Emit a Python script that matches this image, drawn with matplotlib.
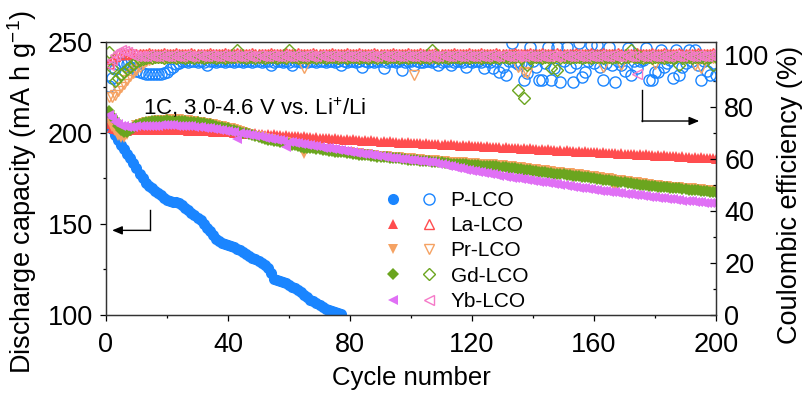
import numpy as np
import matplotlib
matplotlib.use("Agg")
import matplotlib.pyplot as plt
from matplotlib.legend_handler import HandlerTuple

plt.rcParams['font.family'] = ['Liberation Sans', 'DejaVu Sans']
plt.rcParams['mathtext.fontset'] = 'custom'
plt.rcParams['mathtext.rm'] = 'Liberation Sans'
plt.rcParams['mathtext.default'] = 'regular'

# cycle numbers
cycles = np.arange(1, 201)
cycles_p = np.arange(1, 78)

# discharge capacity (mA h g-1)
cap_p = [205.0, 202.0, 199.0, 196.0, 193.5, 191.0, 188.5, 186.0, 183.5, 180.5,
         177.5, 175.0, 172.5, 171.0, 169.5, 168.3, 167.0, 165.7, 164.5, 163.3,
         162.5, 162.2, 162.0, 161.5, 160.5, 159.0, 157.5, 156.3, 155.0, 153.5,
         152.0, 150.0, 148.0, 146.0, 144.0, 142.0, 140.5, 139.5, 139.0, 138.5,
         138.0, 137.3, 136.5, 135.5, 134.5, 133.5, 132.5, 131.5, 130.5, 129.5,
         128.5, 127.3, 126.0, 123.0, 120.0, 119.0, 118.5, 118.0, 117.5, 116.5,
         115.5, 114.8, 114.0, 112.5, 111.0, 109.7, 108.5, 107.5, 106.5, 105.5,
         104.5, 103.5, 102.5, 102.0, 101.5, 101.0, 100.5]

cap_la = [205.0, 203.0, 202.0, 201.5, 201.0, 201.4, 201.2, 201.7, 201.5, 202.0, 201.8, 202.2, 201.9, 202.3, 201.9, 202.3, 201.8, 202.2, 201.8, 202.1,
          201.6, 202.0, 201.5, 201.9, 201.4, 201.8, 201.3, 201.7, 201.2, 201.5, 201.0, 201.4, 200.9, 201.2, 200.7, 201.1, 200.6, 200.9, 200.4, 200.8,
          200.6, 200.2, 200.4, 199.9, 200.1, 199.7, 200.0, 199.5, 199.8, 199.4, 199.6, 199.1, 199.4, 198.9, 199.2, 198.7, 199.0, 198.5, 198.8, 198.3,
          198.6, 198.1, 198.3, 197.9, 198.1, 197.7, 197.9, 197.5, 197.7, 197.2, 197.5, 197.0, 197.3, 196.8, 197.1, 196.6, 196.9, 196.4, 196.7, 196.2,
          196.5, 196.0, 196.3, 195.8, 196.1, 195.6, 195.9, 195.4, 195.7, 195.3, 195.6, 195.1, 195.4, 194.9, 195.2, 194.7, 195.0, 194.6, 194.9, 194.4,
          194.7, 194.3, 194.5, 194.1, 194.4, 193.9, 194.2, 193.8, 194.0, 193.6, 193.9, 193.4, 193.7, 193.3, 193.5, 193.1, 193.4, 192.9, 193.2, 192.8,
          193.0, 192.6, 192.9, 192.4, 192.7, 192.2, 192.5, 192.1, 192.4, 191.9, 192.2, 191.7, 192.0, 191.6, 191.8, 191.4, 191.7, 191.2, 191.5, 191.0,
          191.3, 190.9, 191.1, 190.7, 191.0, 190.5, 190.8, 190.3, 190.6, 190.2, 190.5, 190.0, 190.3, 189.8, 190.1, 189.7, 189.9, 189.5, 189.8, 189.3,
          189.6, 189.1, 189.4, 189.0, 189.2, 188.8, 189.1, 188.6, 188.9, 188.4, 188.7, 188.3, 188.5, 188.1, 188.4, 187.9, 188.2, 187.7, 188.0, 187.6,
          187.9, 187.4, 187.7, 187.2, 187.5, 187.1, 187.3, 186.9, 187.2, 186.7, 187.0, 186.5, 186.8, 186.4, 186.6, 186.2, 186.5, 186.0, 186.3, 185.9]

cap_pr = [207.0, 203.5, 201.0, 198.5, 197.0, 197.5, 199.0, 201.0, 203.0, 204.2, 205.0, 205.6, 206.0, 206.3, 206.5, 206.8, 207.0, 207.2, 207.3, 207.4,
          207.5, 207.5, 207.5, 207.5, 207.4, 207.2, 207.0, 206.8, 206.5, 206.3, 206.0, 205.7, 205.4, 205.0, 204.7, 204.3, 204.0, 203.6, 203.2, 202.9,
          202.5, 202.0, 201.6, 201.1, 200.6, 200.1, 199.6, 199.1, 198.6, 198.1, 197.6, 197.3, 196.9, 196.6, 196.2, 195.8, 195.4, 195.1, 194.8, 194.4,
          194.0, 193.7, 193.3, 192.9, 188.5, 192.6, 192.3, 192.0, 191.8, 191.5, 191.3, 191.1, 190.9, 190.7, 190.5, 190.3, 190.1, 189.8, 189.6, 189.4,
          189.2, 189.0, 188.8, 188.6, 188.4, 188.2, 188.0, 187.8, 187.6, 187.5, 187.3, 187.2, 187.0, 186.9, 186.7, 186.6, 186.4, 186.3, 186.1, 186.0,
          185.8, 185.7, 185.6, 185.4, 185.3, 185.1, 185.0, 184.9, 184.8, 184.6, 184.5, 184.3, 184.2, 184.1, 184.0, 183.9, 183.8, 183.7, 183.6, 183.5,
          183.4, 183.2, 183.1, 183.0, 182.9, 182.8, 182.7, 182.5, 182.4, 182.2, 182.1, 181.9, 181.7, 181.5, 181.3, 181.1, 180.9, 180.7, 180.4, 180.2,
          180.0, 179.8, 179.6, 179.4, 179.2, 179.0, 178.8, 178.6, 178.4, 178.2, 178.0, 177.8, 177.6, 177.4, 177.2, 177.0, 176.8, 176.6, 176.4, 176.2,
          176.0, 175.8, 175.5, 175.3, 175.0, 174.8, 169.0, 174.3, 174.0, 173.8, 173.5, 173.3, 173.0, 172.8, 172.5, 172.3, 172.0, 171.8, 171.6, 171.4,
          171.2, 171.0, 170.8, 170.7, 170.5, 170.4, 170.2, 170.1, 169.9, 169.8, 169.6, 169.5, 169.3, 169.2, 169.0, 168.9, 168.7, 168.6, 168.4, 168.3]

cap_gd = [212.0, 209.5, 207.0, 204.0, 201.5, 200.8, 200.5, 201.5, 203.0, 204.2, 205.0, 205.6, 206.0, 206.3, 206.5, 206.7, 206.5, 206.8, 206.6, 206.9,
          206.6, 206.8, 206.5, 206.7, 206.4, 206.4, 206.1, 206.1, 205.8, 205.8, 205.4, 205.3, 204.9, 204.7, 204.2, 204.0, 203.5, 203.2, 202.7, 202.5,
          201.9, 201.7, 201.1, 200.8, 200.1, 199.8, 199.2, 198.8, 198.1, 197.8, 197.1, 196.9, 196.4, 196.2, 195.7, 195.5, 194.9, 194.8, 194.3, 194.1,
          193.5, 193.3, 192.7, 192.5, 191.9, 192.0, 191.6, 191.5, 191.1, 191.0, 190.6, 190.6, 190.2, 190.2, 189.8, 189.8, 189.4, 189.3, 188.9, 188.9,
          188.5, 188.5, 188.1, 188.1, 187.7, 187.7, 187.3, 187.3, 186.9, 186.9, 186.6, 186.6, 186.3, 186.3, 186.0, 186.0, 185.7, 185.7, 185.4, 185.4,
          185.1, 185.1, 184.8, 184.8, 184.5, 184.5, 184.2, 184.2, 183.9, 183.8, 183.5, 183.5, 183.2, 183.2, 183.0, 183.0, 182.8, 182.8, 182.6, 182.6,
          182.4, 182.4, 182.1, 182.1, 181.9, 181.9, 181.7, 181.7, 181.4, 181.4, 181.1, 181.0, 180.7, 180.6, 180.3, 180.2, 179.9, 179.8, 179.4, 179.3,
          178.9, 178.8, 178.5, 178.4, 178.1, 178.0, 177.7, 177.6, 177.3, 177.2, 176.9, 176.8, 176.5, 176.4, 176.1, 176.0, 175.7, 175.6, 175.3, 175.2,
          174.9, 174.7, 174.4, 174.2, 173.9, 173.7, 173.4, 173.2, 172.9, 172.8, 172.5, 172.3, 172.0, 171.9, 171.6, 171.5, 171.2, 171.1, 170.8, 170.7,
          170.4, 170.4, 170.1, 170.1, 169.8, 169.8, 169.5, 169.5, 169.2, 169.1, 168.9, 168.8, 168.5, 168.5, 168.2, 168.2, 167.9, 167.8, 167.5, 167.4]

cap_yb = [210.0, 208.0, 206.0, 205.0, 204.0, 203.7, 203.5, 203.5, 203.5, 203.6, 203.7, 203.8, 203.9, 204.0, 204.0, 204.1, 204.1, 204.2, 204.2, 204.2,
          204.2, 204.2, 204.1, 204.1, 204.0, 203.9, 203.8, 203.7, 203.5, 203.4, 203.2, 203.0, 202.8, 202.6, 202.4, 202.1, 201.8, 201.5, 201.2, 200.9,
          200.6, 200.3, 196.5, 199.9, 199.6, 199.3, 199.0, 198.7, 198.4, 198.1, 197.8, 197.5, 197.1, 196.8, 196.5, 196.2, 195.9, 195.6, 192.5, 195.3,
          195.0, 194.7, 194.4, 194.1, 193.8, 193.5, 193.2, 192.9, 192.6, 192.3, 192.0, 191.8, 191.5, 191.3, 191.0, 190.8, 190.5, 190.3, 190.0, 189.7,
          189.4, 189.2, 188.9, 188.7, 188.4, 188.2, 187.9, 187.7, 187.4, 187.2, 186.9, 186.7, 186.5, 186.3, 186.1, 185.9, 185.7, 185.6, 185.4, 185.2,
          185.0, 184.8, 184.6, 184.4, 184.2, 184.0, 183.8, 183.4, 183.0, 182.7, 182.3, 182.0, 181.6, 181.3, 180.9, 180.6, 180.2, 179.9, 179.6, 179.3,
          179.0, 178.7, 178.4, 178.1, 177.8, 177.5, 177.2, 176.9, 176.6, 176.3, 176.0, 175.8, 175.5, 175.3, 175.0, 174.8, 174.5, 174.3, 174.0, 173.8,
          173.5, 173.3, 173.0, 172.8, 172.5, 172.3, 172.0, 171.8, 171.5, 171.3, 171.0, 170.8, 170.5, 170.3, 170.0, 169.8, 169.5, 169.3, 169.0, 168.8,
          168.5, 168.3, 168.1, 167.9, 167.7, 167.5, 167.3, 167.1, 166.9, 166.7, 166.5, 166.3, 166.1, 165.9, 165.7, 165.5, 165.3, 165.1, 164.9, 164.7,
          164.5, 164.3, 164.1, 163.9, 163.7, 163.5, 163.3, 163.1, 162.9, 162.7, 162.5, 162.4, 162.2, 162.1, 161.9, 161.8, 161.6, 161.5, 161.3, 161.2]

# coulombic efficiency (%)
ce_p = [88.0, 91.0, 94.5, 96.5, 97.0, 97.0, 96.5, 95.5, 95.0, 94.0, 93.5, 93.0, 92.8, 92.5, 92.5, 92.5, 92.6, 92.8, 93.0, 93.5,
        94.5, 95.5, 96.5, 97.0, 97.5, 97.5, 97.4, 97.6, 97.5, 97.4, 97.5, 97.3, 96.0, 97.5, 97.6, 97.4, 97.5, 97.5, 97.3, 97.6,
        97.5, 97.4, 97.6, 97.5, 97.3, 97.5, 97.6, 97.4, 97.5, 97.5, 97.3, 97.6, 97.5, 96.0, 97.4, 97.5, 97.6, 97.3, 97.5, 97.4,
        96.0, 97.5, 97.6, 97.4, 97.5, 97.3, 97.5, 97.6, 97.4, 97.5, 97.5, 97.3, 97.6, 97.5, 97.4, 97.5, 96.2, 97.5, 97.3, 97.6,
        97.5, 97.4, 97.5, 95.4, 97.6, 97.3, 97.5, 97.4, 97.6, 97.5, 95.0, 97.4, 97.5, 97.6, 97.3, 97.5, 94.2, 97.4, 97.5, 97.6,
        96.2, 97.5, 97.3, 97.4, 97.6, 97.5, 97.4, 97.5, 96.2, 97.3, 97.6, 97.5, 96.2, 97.4, 97.5, 97.6, 97.3, 95.4, 97.5, 97.4,
        97.6, 97.5, 97.3, 95.0, 97.5, 97.4, 95.0, 97.6, 93.5, 95.4, 92.3, 97.5, 104.6, 97.4, 96.5, 97.0, 90.4, 93.0, 103.0, 97.5,
        95.5, 90.4, 90.4, 97.0, 103.0, 90.4, 95.0, 103.0, 89.6, 97.5, 103.0, 95.5, 89.6, 97.0, 104.6, 91.5, 93.5, 97.5, 103.8, 97.0,
        103.8, 95.4, 90.4, 97.0, 103.0, 96.2, 89.6, 97.5, 96.2, 94.0, 102.7, 92.3, 97.5, 95.0, 97.5, 98.0, 102.7, 90.4, 90.4, 93.5,
        93.5, 102.0, 95.4, 97.0, 98.0, 91.0, 102.0, 92.3, 95.5, 97.0, 102.0, 97.5, 102.0, 96.0, 90.4, 97.5, 94.0, 92.3, 97.0, 92.3]

ce_la = [97.0, 98.5, 99.5, 100.2, 100.5, 100.2, 100.4, 100.6, 100.3, 100.5, 100.2, 100.4, 100.3, 100.6, 100.4, 100.2, 100.5, 100.3, 100.6, 100.4,
         100.4, 100.2, 100.6, 100.3, 100.5, 100.2, 100.4, 100.6, 100.3, 100.5, 100.2, 100.4, 100.3, 100.6, 100.4, 100.2, 100.5, 100.3, 100.6, 100.4,
         100.4, 100.2, 100.6, 100.3, 100.5, 100.2, 100.4, 100.6, 100.3, 100.5, 100.2, 100.4, 100.3, 100.6, 100.4, 100.2, 100.5, 100.3, 100.6, 100.4,
         100.4, 100.2, 100.6, 100.3, 100.5, 100.2, 100.4, 100.6, 100.3, 100.5, 100.2, 100.4, 100.3, 100.6, 100.4, 100.2, 100.5, 100.3, 100.6, 100.4,
         100.4, 100.2, 100.6, 100.3, 100.5, 100.2, 100.4, 100.6, 100.3, 100.5, 100.2, 100.4, 100.3, 100.6, 100.4, 100.2, 100.5, 100.3, 100.6, 100.4,
         100.4, 100.2, 100.6, 100.3, 100.5, 100.2, 100.4, 100.6, 100.3, 100.5, 100.2, 100.4, 100.3, 100.6, 100.4, 100.2, 100.5, 100.3, 100.6, 100.4,
         100.4, 100.2, 100.6, 100.3, 100.5, 100.2, 100.4, 100.6, 100.3, 100.5, 100.2, 100.4, 100.3, 100.6, 100.4, 100.2, 100.5, 100.3, 100.6, 100.4,
         100.4, 100.2, 100.6, 100.3, 100.5, 100.2, 100.4, 100.6, 100.3, 100.5, 100.2, 100.4, 100.3, 100.6, 100.4, 100.2, 100.5, 100.3, 100.6, 100.4,
         100.4, 100.2, 100.6, 100.3, 100.5, 100.2, 100.4, 100.6, 100.3, 100.5, 100.2, 100.4, 100.3, 100.6, 100.4, 100.2, 100.5, 100.3, 100.6, 100.4,
         100.4, 100.2, 100.6, 100.3, 100.5, 100.2, 100.4, 100.6, 100.3, 100.5, 100.2, 100.4, 100.3, 100.6, 100.4, 100.2, 100.5, 100.3, 100.6, 100.4]

ce_pr = [84.0, 84.0, 84.5, 86.0, 87.5, 89.0, 90.5, 92.0, 93.0, 94.3, 95.5, 96.5, 97.5, 98.0, 98.5, 98.8, 99.0, 99.1, 99.0, 99.2,
         99.0, 99.2, 98.8, 99.1, 99.0, 99.3, 98.9, 99.1, 99.2, 98.8, 99.0, 99.2, 98.9, 99.1, 99.0, 99.3, 98.8, 99.1, 99.0, 99.2,
         99.0, 99.2, 98.8, 99.1, 99.0, 99.3, 98.9, 99.1, 99.2, 98.8, 99.0, 99.2, 98.9, 99.1, 99.0, 99.3, 98.8, 99.1, 99.0, 99.2,
         99.0, 99.2, 98.8, 99.1, 95.0, 99.3, 98.9, 99.1, 99.2, 98.8, 99.0, 99.2, 98.9, 99.1, 99.0, 99.3, 98.8, 99.1, 99.0, 99.2,
         99.0, 99.2, 98.8, 99.1, 99.0, 99.3, 98.9, 99.1, 99.2, 98.8, 99.0, 99.2, 98.9, 99.1, 99.0, 99.3, 98.8, 99.1, 99.0, 99.2,
         92.3, 99.2, 98.8, 99.1, 99.0, 99.3, 98.9, 99.1, 99.2, 98.8, 99.0, 99.2, 98.9, 99.1, 99.0, 99.3, 98.8, 99.1, 99.0, 99.2,
         99.0, 99.2, 98.8, 99.1, 99.0, 99.3, 98.9, 99.1, 99.2, 98.8, 99.0, 99.2, 98.9, 99.1, 95.4, 99.3, 93.5, 93.0, 99.0, 99.2,
         99.0, 99.2, 98.8, 99.1, 99.0, 99.3, 98.9, 99.1, 99.2, 98.8, 99.0, 99.2, 98.9, 99.1, 99.0, 99.3, 98.8, 99.1, 99.0, 99.2,
         99.0, 99.2, 95.4, 99.1, 99.0, 99.3, 98.9, 99.1, 96.0, 98.8, 99.0, 99.2, 98.9, 99.1, 99.0, 99.3, 98.8, 99.1, 99.0, 96.5,
         99.0, 99.2, 98.8, 99.1, 99.0, 99.3, 98.9, 99.1, 99.2, 98.8, 99.0, 99.2, 96.0, 99.1, 95.0, 99.3, 98.8, 99.1, 99.0, 99.2]

ce_gd = [101.0, 95.0, 90.0, 91.0, 92.5, 93.5, 94.5, 95.5, 96.5, 97.3, 98.0, 98.5, 99.0, 99.2, 99.0, 99.3, 99.1, 99.2, 99.0, 99.3,
         99.1, 99.3, 99.0, 99.2, 99.1, 99.0, 99.3, 99.2, 99.0, 99.1, 99.3, 99.0, 99.2, 99.1, 99.3, 99.0, 99.2, 99.1, 99.0, 99.3,
         99.1, 99.3, 102.0, 99.2, 99.1, 99.0, 99.3, 99.2, 99.0, 99.1, 99.3, 99.0, 99.2, 99.1, 99.3, 99.0, 99.2, 99.1, 99.0, 102.0,
         99.1, 99.3, 99.0, 99.2, 99.1, 99.0, 99.3, 99.2, 99.0, 99.1, 99.3, 99.0, 99.2, 99.1, 99.3, 99.0, 99.2, 99.1, 99.0, 99.3,
         99.1, 99.3, 99.0, 99.2, 99.1, 99.0, 99.3, 99.2, 99.0, 99.1, 99.3, 99.0, 99.2, 99.1, 99.3, 99.0, 99.2, 99.1, 99.0, 99.3,
         99.1, 99.3, 99.0, 99.2, 99.1, 99.0, 102.0, 99.2, 99.0, 99.1, 99.3, 99.0, 99.2, 99.1, 99.3, 99.0, 99.2, 99.1, 99.0, 99.3,
         99.1, 99.3, 99.0, 99.2, 99.1, 99.0, 99.3, 99.2, 99.0, 99.1, 99.3, 99.0, 99.2, 99.1, 86.5, 99.0, 83.5, 96.0, 99.0, 99.3,
         99.1, 99.3, 99.0, 99.2, 99.1, 95.0, 99.3, 94.2, 99.0, 99.1, 99.3, 99.0, 99.2, 99.1, 99.3, 99.0, 99.2, 99.1, 99.0, 99.3,
         99.1, 99.3, 99.0, 99.2, 99.1, 99.0, 99.3, 99.2, 99.0, 99.1, 99.3, 102.0, 99.2, 99.1, 99.3, 99.0, 99.2, 99.1, 99.0, 99.3,
         99.1, 99.3, 99.0, 99.2, 99.1, 99.0, 99.3, 96.0, 99.0, 99.1, 99.3, 99.0, 99.2, 99.1, 99.3, 99.0, 99.2, 99.1, 96.0, 99.3]

ce_yb = [96.0, 98.0, 100.0, 101.0, 102.0, 101.5, 101.0, 100.3, 99.8, 99.6, 99.5, 99.7, 99.6, 99.8, 99.5, 99.7, 99.6, 99.8, 99.5, 99.7,
         99.6, 99.8, 99.5, 99.7, 99.6, 99.8, 99.5, 99.7, 99.6, 99.8, 99.5, 99.7, 99.6, 99.8, 99.5, 99.7, 99.6, 99.8, 99.5, 99.7,
         99.6, 99.8, 99.5, 99.7, 99.6, 99.8, 99.5, 99.7, 99.6, 99.8, 99.5, 99.7, 99.6, 99.8, 99.5, 99.7, 99.6, 99.8, 99.5, 99.7,
         99.6, 99.8, 99.5, 99.7, 99.6, 99.8, 99.5, 99.7, 99.6, 99.8, 99.5, 99.7, 99.6, 99.8, 99.5, 99.7, 99.6, 99.8, 99.5, 99.7,
         99.6, 99.8, 99.5, 99.7, 99.6, 99.8, 99.5, 99.7, 99.6, 99.8, 99.5, 99.7, 99.6, 99.8, 99.5, 99.7, 99.6, 99.8, 99.5, 99.7,
         99.6, 99.8, 99.5, 99.7, 99.6, 99.8, 99.5, 99.7, 99.6, 99.8, 99.5, 99.7, 99.6, 99.8, 99.5, 99.7, 99.6, 99.8, 99.5, 99.7,
         99.6, 99.8, 99.5, 99.7, 99.6, 99.8, 99.5, 99.7, 99.6, 99.8, 99.5, 99.7, 99.6, 99.8, 99.5, 99.7, 99.6, 99.8, 99.5, 99.7,
         99.6, 99.8, 99.5, 99.7, 99.6, 99.8, 99.5, 99.7, 99.6, 99.8, 99.5, 99.7, 99.6, 99.8, 99.5, 99.7, 99.6, 99.8, 99.5, 99.7,
         99.6, 99.8, 99.5, 99.7, 99.6, 99.8, 99.5, 99.7, 99.6, 99.8, 99.5, 99.7, 99.6, 92.5, 99.5, 99.7, 99.6, 99.8, 99.5, 99.7,
         99.6, 99.8, 99.5, 99.7, 99.6, 99.8, 99.5, 99.7, 99.6, 99.8, 99.5, 99.7, 99.6, 99.8, 99.5, 99.7, 99.6, 99.8, 99.5, 99.7]

labels = ['P-LCO', 'La-LCO', 'Pr-LCO', 'Gd-LCO', 'Yb-LCO']
markers = ['o', '^', 'v', 'D', '<']
cap_colors = ['#1a85ff', '#ff4d4f', '#f5a263', '#6ba51f', '#e070f5']
ce_colors = ['#1a85ff', '#ff4d4f', '#f5a263', '#6ba51f', '#f57ac8']

fig = plt.figure(figsize=(8.03, 3.94), dpi=100)
ax = fig.add_axes([0.132, 0.2005, 0.7597, 0.693])
ax2 = ax.twinx()

cap_x = [cycles_p, cycles, cycles, cycles, cycles]
cap_y = [cap_p, cap_la, cap_pr, cap_gd, cap_yb]
ce_y = [ce_p, ce_la, ce_pr, ce_gd, ce_yb]
sizes = [8, 7.5, 7.5, 6.3, 7.5]

handles = []
for i in range(5):
    h1, = ax.plot(cap_x[i], cap_y[i], ls='none', marker=markers[i], ms=sizes[i],
                  color=cap_colors[i], mec=cap_colors[i], mew=0)
    h2, = ax2.plot(cycles, ce_y[i], ls='none', marker=markers[i], ms=sizes[i],
                   mfc='none', mec=ce_colors[i], mew=1.0)
    handles.append((h1, h2))

ax.set_xlim(0, 200)
ax.set_ylim(100, 250)
ax2.set_ylim(0, 105)

ax.set_xticks(np.arange(0, 201, 40))
ax.set_xticks(np.arange(0, 201, 20), minor=True)
ax.set_yticks([100, 150, 200, 250])
ax.set_yticks([125, 175, 225], minor=True)
ax2.set_yticks(np.arange(0, 101, 20))
ax2.set_yticks(np.arange(10, 100, 20), minor=True)

ax.tick_params(axis='both', which='major', direction='out', length=4.5, width=0.9,
               labelsize=19.5)
ax.tick_params(axis='y', which='major', pad=5)
ax.tick_params(axis='x', which='major', pad=7.5)
ax.tick_params(axis='both', which='minor', direction='out', length=2.5, width=0.9)
ax2.tick_params(axis='y', which='major', direction='in', length=4.5, width=0.9,
                labelsize=19.5, pad=6)
ax2.tick_params(axis='y', which='minor', direction='in', length=2.5, width=0.9)

for a in (ax, ax2):
    for s in a.spines.values():
        s.set_linewidth(0.9)
        s.set_color('#333333')

ax.set_xlabel('Cycle number', fontsize=18.5, labelpad=6)
ax.set_ylabel('Discharge capacity (mA h g$^{-1}$)', fontsize=19.5)
ax2.set_ylabel('Coulombic efficiency (%)', fontsize=19.5)
ax.yaxis.set_label_coords(-0.11, 0.45)
ax2.yaxis.set_label_coords(1.10, 0.44)

ax.text(12, 214, '1C, 3.0-4.6 V vs. Li$^{+}$/Li', fontsize=16, va='center')

# arrows pointing to the axes
ax.plot([14.4, 14.4], [157.5, 146.5], color='black', lw=1)
ax.annotate('', xy=(2.0, 146.5), xytext=(14.4, 146.5),
            arrowprops=dict(arrowstyle='-|>,head_length=0.6,head_width=0.25',
                            color='black', lw=1, shrinkA=0, shrinkB=0))
ax2.plot([175.7, 175.7], [86.5, 74.6], color='black', lw=1)
ax2.annotate('', xy=(194.5, 74.6), xytext=(175.7, 74.6),
             arrowprops=dict(arrowstyle='-|>,head_length=0.6,head_width=0.25',
                             color='black', lw=1, shrinkA=0, shrinkB=0))

ax2.legend(handles, labels, handler_map={tuple: HandlerTuple(ndivide=None, pad=0)},
           loc='lower left', bbox_to_anchor=(0.435, 0.0), frameon=False,
           fontsize=15, handlelength=3.4, handletextpad=0.2, labelspacing=0.3,
           borderaxespad=0.1, borderpad=0.1)

fig.savefig('out.png', dpi=100)
